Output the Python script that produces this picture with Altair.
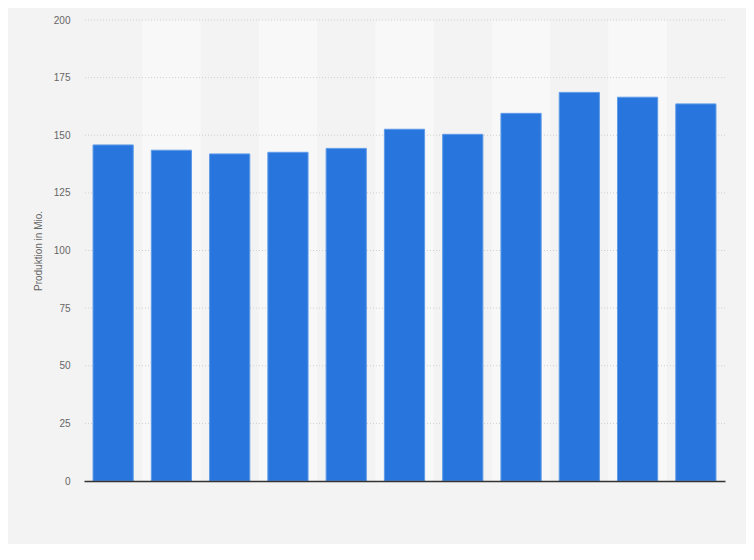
import altair as alt
import pandas as pd

categories = ["2008", "2009", "2010", "2011", "2012", "2013", "2014", "2015", "2016", "2017", "2018"]
values = [145.8, 143.5, 141.9, 142.6, 144.3, 152.6, 150.4, 159.5, 168.6, 166.5, 163.6]
striped = [False, True, False, True, False, True, False, True, False, True, False]
y_ticks = [0, 25, 50, 75, 100, 125, 150, 175, 200]

df = pd.DataFrame({"Jahr": categories, "Produktion": values, "Streifen": striped})
grid_df = pd.DataFrame({"wert": y_ticks[1:]})

x_scale = alt.Scale(paddingInner=0, paddingOuter=0)
y_scale = alt.Scale(domain=[0, 200], nice=False)

x_axis = alt.Axis(labels=False, ticks=False, title=None, domain=True,
                  domainColor="#333333", domainWidth=1.5, grid=False, zindex=1)
y_axis = alt.Axis(values=y_ticks,
                  title="Produktion in Mio.", titleFontWeight="normal",
                  titleFontSize=10, titleColor="#666666", titlePadding=10,
                  labelColor="#666666", labelFontSize=10, labelPadding=14,
                  ticks=False, domain=False, grid=False)

base = alt.Chart(df)

stripes = base.transform_filter("datum.Streifen").mark_bar(
    color="#f8f8f8", width=alt.RelativeBandSize(1)
).encode(
    x=alt.X("Jahr:N", scale=x_scale, sort=categories, axis=x_axis),
    y=alt.Y(datum=200, scale=y_scale, axis=y_axis),
    y2=alt.datum(0),
)

grid = alt.Chart(grid_df).mark_rule(
    color="#cfcfcf", strokeDash=[1, 2], strokeWidth=1
).encode(
    y=alt.Y("wert:Q", scale=y_scale, axis=y_axis),
)

bars = base.mark_bar(
    color="#2876dd", stroke="#5f9be8", strokeWidth=1, width=alt.RelativeBandSize(0.69)
).encode(
    x=alt.X("Jahr:N", scale=x_scale, sort=categories, axis=x_axis),
    y=alt.Y("Produktion:Q", scale=y_scale, axis=y_axis),
)

chart = alt.layer(stripes, grid, bars).properties(
    width=641,
    height=461,
    background="#f3f3f3",
    padding={"left": 76, "top": 12, "right": 21, "bottom": 63},
    autosize=alt.AutoSizeParams(type="none"),
    view=alt.ViewBackground(stroke="transparent", strokeWidth=0),
).configure_view(
    stroke="transparent", strokeWidth=0
).configure(
    font="Liberation Sans"
)

chart.save("out.html", embed_options={"renderer": "svg", "actions": False})
